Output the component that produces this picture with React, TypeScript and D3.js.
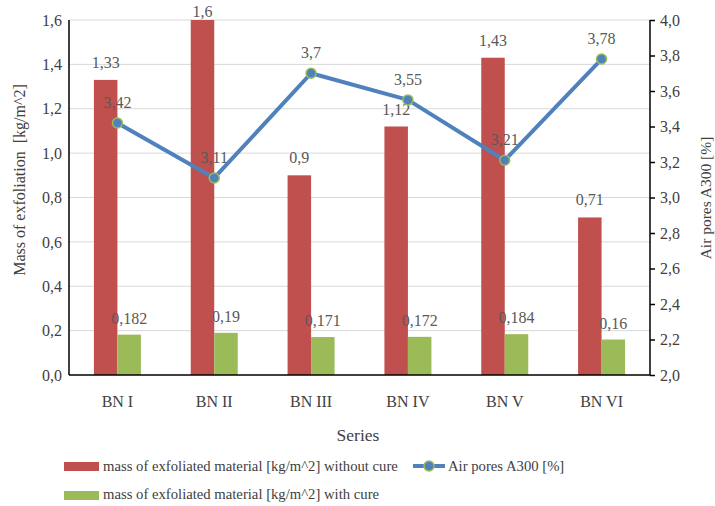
import * as React from "react"
import * as d3 from "d3"

const categories = ["BN I", "BN II", "BN III", "BN IV", "BN V", "BN VI"]
const withoutCure = [1.33, 1.6, 0.9, 1.12, 1.43, 0.71]
const withCure = [0.182, 0.19, 0.171, 0.172, 0.184, 0.16]
const airPores = [3.42, 3.11, 3.7, 3.55, 3.21, 3.78]
const leftTicks = [0, 0.2, 0.4, 0.6, 0.8, 1.0, 1.2, 1.4, 1.6]
const rightTicks = [2.0, 2.2, 2.4, 2.6, 2.8, 3.0, 3.2, 3.4, 3.6, 3.8, 4.0]

const RED = "#C0504D"
const GREEN = "#9BBB59"
const BLUE = "#4F81BD"
const FONT = '"Liberation Serif", "DejaVu Serif", serif'

const fmt = (v: number) => String(v).replace(".", ",")
const fmt1 = (v: number) => v.toFixed(1).replace(".", ",")

export default function App(): React.JSX.Element {
  const svgRef = React.useRef<SVGSVGElement>(null)
  const width = 715
  const height = 506
  const margin = { top: 20, left: 69, right: 65, bottom: 131 }

  React.useEffect(() => {
    const svg = d3.select(svgRef.current)
    svg.selectAll("*").remove()

    const x = d3
      .scaleBand()
      .domain(categories)
      .range([margin.left, width - margin.right])
    const yL = d3
      .scaleLinear()
      .domain([0, 1.6])
      .range([height - margin.bottom, margin.top])
    const yR = d3
      .scaleLinear()
      .domain([2, 4])
      .range([height - margin.bottom, margin.top])
    const barW = 23.5

    // grid
    svg
      .append("g")
      .selectAll("line")
      .data(leftTicks.slice(1))
      .join("line")
      .attr("x1", margin.left)
      .attr("x2", width - margin.right)
      .attr("y1", (d) => yL(d))
      .attr("y2", (d) => yL(d))
      .attr("stroke", "#d9d9d9")
      .attr("stroke-width", 1)

    // bars
    svg
      .append("g")
      .selectAll("rect")
      .data(withoutCure)
      .join("rect")
      .attr("x", (_d, i) => x(categories[i])! + x.bandwidth() / 2 - barW)
      .attr("y", (d) => yL(d))
      .attr("width", barW)
      .attr("height", (d) => yL(0) - yL(d))
      .attr("fill", RED)
    svg
      .append("g")
      .selectAll("rect")
      .data(withCure)
      .join("rect")
      .attr("x", (_d, i) => x(categories[i])! + x.bandwidth() / 2)
      .attr("y", (d) => yL(d))
      .attr("width", barW)
      .attr("height", (d) => yL(0) - yL(d))
      .attr("fill", GREEN)

    // bar labels
    const labelStyle = (sel: any) =>
      sel
        .style("font-family", FONT)
        .style("font-size", "16px")
        .attr("fill", "#595959")
        .attr("text-anchor", "middle")
    svg
      .append("g")
      .selectAll("text")
      .data(withoutCure)
      .join("text")
      .attr("x", (_d, i) => x(categories[i])! + x.bandwidth() / 2 - barW / 2)
      .attr("y", (d) => Math.max(yL(d) - 12, 17))
      .text((d) => fmt(d))
      .call(labelStyle)
    svg
      .append("g")
      .selectAll("text")
      .data(withCure)
      .join("text")
      .attr("x", (_d, i) => x(categories[i])! + x.bandwidth() / 2 + barW / 2)
      .attr("y", (d) => yL(d) - 11)
      .text((d) => fmt(d))
      .call(labelStyle)

    // axes lines
    svg
      .append("line")
      .attr("x1", margin.left)
      .attr("x2", margin.left)
      .attr("y1", margin.top)
      .attr("y2", yL(0))
      .attr("stroke", "#000")
      .attr("stroke-width", 1.5)
    svg
      .append("line")
      .attr("x1", margin.left)
      .attr("x2", width - margin.right)
      .attr("y1", yL(0))
      .attr("y2", yL(0))
      .attr("stroke", "#000")
      .attr("stroke-width", 1.5)

    const right = svg
      .append("g")
      .attr("transform", `translate(${width - margin.right},0)`)
      .call(
        d3
          .axisRight(yR)
          .tickValues(rightTicks)
          .tickSize(5)
          .tickPadding(5)
          .tickFormat((d) => fmt1(d as number))
      )
    right.select(".domain").attr("stroke-width", 1.5).attr("d", `M0,${margin.top}V${yR(2)}`)
    right
      .selectAll(".tick text")
      .style("font-family", FONT)
      .style("font-size", "16px")
      .attr("fill", "#404040")
    right.selectAll(".tick line").attr("stroke-width", 1.5)

    const left = svg
      .append("g")
      .attr("transform", `translate(${margin.left},0)`)
      .call(
        d3
          .axisLeft(yL)
          .tickValues(leftTicks)
          .tickSize(0)
          .tickPadding(7)
          .tickFormat((d) => fmt1(d as number))
      )
    left.select(".domain").remove()
    left
      .selectAll(".tick text")
      .style("font-family", FONT)
      .style("font-size", "16px")
      .attr("fill", "#404040")

    // category labels
    svg
      .append("g")
      .selectAll("text")
      .data(categories)
      .join("text")
      .attr("x", (d) => x(d)! + x.bandwidth() / 2)
      .attr("y", 407)
      .attr("text-anchor", "middle")
      .style("font-family", FONT)
      .style("font-size", "16px")
      .attr("fill", "#404040")
      .text((d) => d)

    // line
    const line = d3
      .line<number>()
      .x((_d, i) => x(categories[i])! + x.bandwidth() / 2)
      .y((d) => yR(d))
    svg
      .append("path")
      .datum(airPores)
      .attr("d", line)
      .attr("fill", "none")
      .attr("stroke", BLUE)
      .attr("stroke-width", 4)
      .attr("stroke-linejoin", "round")
    svg
      .append("g")
      .selectAll("circle")
      .data(airPores)
      .join("circle")
      .attr("cx", (_d, i) => x(categories[i])! + x.bandwidth() / 2)
      .attr("cy", (d) => yR(d))
      .attr("r", 5)
      .attr("fill", BLUE)
      .attr("stroke", GREEN)
      .attr("stroke-width", 1.5)
    svg
      .append("g")
      .selectAll("text")
      .data(airPores)
      .join("text")
      .attr("x", (_d, i) => x(categories[i])! + x.bandwidth() / 2)
      .attr("y", (d) => yR(d) - 15)
      .text((d) => fmt(d))
      .call(labelStyle)

    // titles
    const title = (sel: any, size: number) =>
      sel
        .attr("text-anchor", "middle")
        .style("font-family", FONT)
        .style("font-size", `${size}px`)
        .attr("fill", "#404040")
    svg.append("text").attr("x", 358).attr("y", 441).text("Series").call(title, 17.5)
    svg
      .append("text")
      .attr("transform", `translate(25,180) rotate(-90)`)
      .style("white-space", "pre")
      .text("Mass of exfoliation  [kg/m^2]")
      .call(title, 16)
    svg
      .append("text")
      .attr("transform", `translate(711,198) rotate(-90)`)
      .text("Air pores A300 [%]")
      .call(title, 15.5)

    // legend
    const lg = svg
      .append("g")
      .style("font-family", FONT)
      .style("font-size", "14.7px")
      .attr("fill", "#404040")
    lg.append("rect").attr("x", 64).attr("y", 462).attr("width", 35).attr("height", 9).attr("fill", RED)
    lg.append("text").attr("x", 103).attr("y", 471).text("mass of exfoliated material [kg/m^2] without cure")
    lg.append("rect").attr("x", 64).attr("y", 491).attr("width", 35).attr("height", 9).attr("fill", GREEN)
    lg.append("text").attr("x", 103).attr("y", 499).text("mass of exfoliated material [kg/m^2] with cure")
    lg.append("line").attr("x1", 413).attr("x2", 445).attr("y1", 466).attr("y2", 466).attr("stroke", BLUE).attr("stroke-width", 4)
    lg.append("circle").attr("cx", 429).attr("cy", 466).attr("r", 5).attr("fill", BLUE).attr("stroke", GREEN).attr("stroke-width", 1.5)
    lg.append("text").attr("x", 448).attr("y", 471).text("Air pores A300 [%]")
  }, [])

  return (
    <svg
      ref={svgRef}
      width={width}
      height={height}
      style={{ position: "absolute", left: 0, top: 0, background: "#fff" }}
    />
  )
}
